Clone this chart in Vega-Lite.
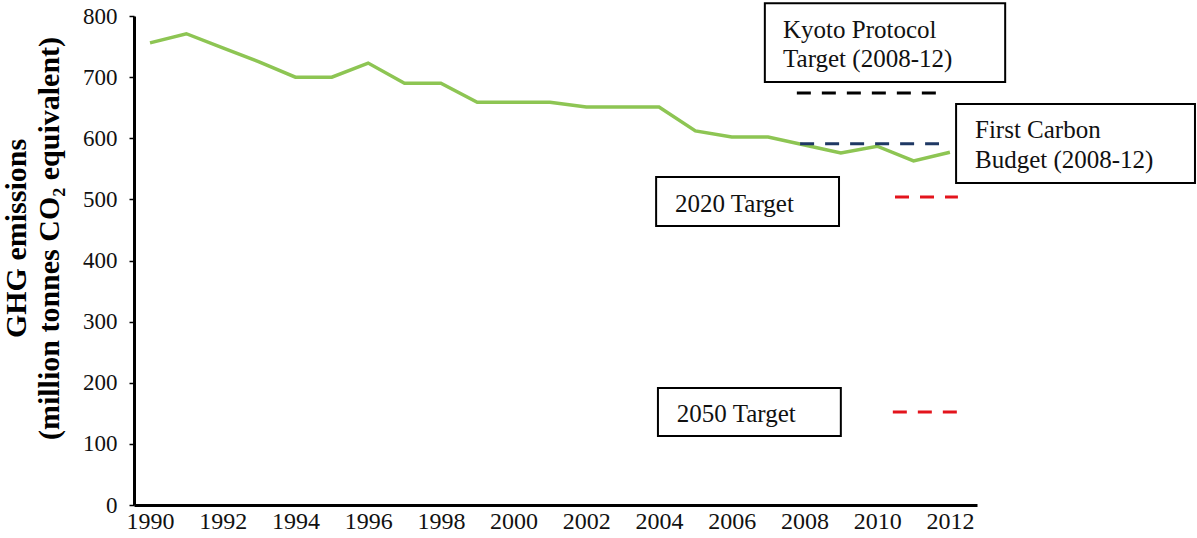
{
  "$schema": "https://vega.github.io/schema/vega-lite/v6.json",
  "width": 843,
  "height": 489,
  "autosize": {"type": "none"},
  "padding": {"left": 134, "top": 16, "right": 220, "bottom": 33},
  "background": "white",
  "config": {
    "view": {"stroke": null},
    "font": "Liberation Serif"
  },
  "datasets": {
    "emissions": [
      {"year": 1990, "value": 756}, {"year": 1991, "value": 771}, {"year": 1992, "value": 748},
      {"year": 1993, "value": 725}, {"year": 1994, "value": 700}, {"year": 1995, "value": 700},
      {"year": 1996, "value": 723}, {"year": 1997, "value": 690}, {"year": 1998, "value": 690},
      {"year": 1999, "value": 659}, {"year": 2000, "value": 659}, {"year": 2001, "value": 659},
      {"year": 2002, "value": 651}, {"year": 2003, "value": 651}, {"year": 2004, "value": 651},
      {"year": 2005, "value": 612}, {"year": 2006, "value": 602}, {"year": 2007, "value": 602},
      {"year": 2008, "value": 589}, {"year": 2009, "value": 576}, {"year": 2010, "value": 587},
      {"year": 2011, "value": 563}, {"year": 2012, "value": 577}
    ],
    "targets": [
      {"target": "Kyoto Protocol Target", "year": 2007.79, "year2": 2011.65, "value": 674},
      {"target": "First Carbon Budget", "year": 2007.88, "year2": 2011.70, "value": 591},
      {"target": "2020 Target", "year": 2010.49, "year2": 2012.22, "value": 504},
      {"target": "2050 Target", "year": 2010.43, "year2": 2012.28, "value": 152}
    ],
    "boxes": [
      {"box": "Kyoto Protocol Target", "year": 2006.91, "year2": 2013.52, "value": 692, "value2": 821},
      {"box": "First Carbon Budget", "year": 2012.17, "year2": 2018.74, "value": 526.8, "value2": 656},
      {"box": "2020 Target", "year": 2003.92, "year2": 2008.95, "value": 456.4, "value2": 536.6},
      {"box": "2050 Target", "year": 2003.97, "year2": 2009.0, "value": 112.9, "value2": 191.4}
    ],
    "labels": [
      {"text": "Kyoto Protocol", "year": 2007.41, "value": 764},
      {"text": "Target  (2008-12)", "year": 2007.41, "value": 716.6},
      {"text": "First Carbon", "year": 2012.69, "value": 600.4},
      {"text": "Budget (2008-12)", "year": 2012.69, "value": 551.3},
      {"text": "2020 Target", "year": 2004.44, "value": 479.3},
      {"text": "2050 Target", "year": 2004.49, "value": 135.8}
    ]
  },
  "layer": [
    {
      "data": {"name": "emissions"},
      "mark": {"type": "line", "color": "#8DC553", "strokeWidth": 3.5, "strokeJoin": "miter"},
      "encoding": {
        "x": {
          "field": "year", "type": "quantitative",
          "scale": {"domain": [1989.56, 2012.745], "nice": false, "zero": false},
          "axis": {
            "title": null,
            "values": [1990, 1992, 1994, 1996, 1998, 2000, 2002, 2004, 2006, 2008, 2010, 2012],
            "format": "d",
            "grid": false,
            "ticks": false,
            "domainColor": "black",
            "domainWidth": 3,
            "labelFont": "Liberation Serif",
            "labelFontSize": 24,
            "labelColor": "#111",
            "labelPadding": 4,
            "labelFlush": false
          }
        },
        "y": {
          "field": "value", "type": "quantitative",
          "scale": {"domain": [0, 800], "nice": false},
          "axis": {
            "title": ["GHG  emissions", "(million tonnes CO₂ equivalent)"],
            "titleFont": "Liberation Serif",
            "titleFontSize": 30,
            "titleFontWeight": "bold",
            "titleColor": "black",
            "titleLineHeight": 33,
            "titlePadding": 18,
            "titleY": 222,
            "values": [0, 100, 200, 300, 400, 500, 600, 700, 800],
            "grid": false,
            "domainColor": "black",
            "domainWidth": 3,
            "tickColor": "black",
            "tickWidth": 1.5,
            "tickSize": 5,
            "labelFont": "Liberation Serif",
            "labelFontSize": 23,
            "labelColor": "#111",
            "labelPadding": 12,
            "labelFlush": false
          }
        }
      }
    },
    {
      "data": {"name": "targets"},
      "mark": {"type": "rule", "strokeWidth": 3, "strokeDash": [14, 11]},
      "encoding": {
        "x": {"field": "year", "type": "quantitative"},
        "x2": {"field": "year2"},
        "y": {"field": "value", "type": "quantitative"},
        "color": {
          "field": "target", "type": "nominal", "legend": null,
          "scale": {
            "domain": ["Kyoto Protocol Target", "First Carbon Budget", "2020 Target", "2050 Target"],
            "range": ["#000000", "#1F3864", "#E3141C", "#E3141C"]
          }
        }
      }
    },
    {
      "data": {"name": "boxes"},
      "mark": {"type": "rect", "fill": "white", "stroke": "black", "strokeWidth": 2},
      "encoding": {
        "x": {"field": "year", "type": "quantitative"},
        "x2": {"field": "year2"},
        "y": {"field": "value", "type": "quantitative"},
        "y2": {"field": "value2"}
      }
    },
    {
      "data": {"name": "labels"},
      "mark": {"type": "text", "align": "left", "baseline": "alphabetic", "font": "Liberation Serif", "fontSize": 25, "color": "#111"},
      "encoding": {
        "x": {"field": "year", "type": "quantitative"},
        "y": {"field": "value", "type": "quantitative"},
        "text": {"field": "text"}
      }
    }
  ]
}
